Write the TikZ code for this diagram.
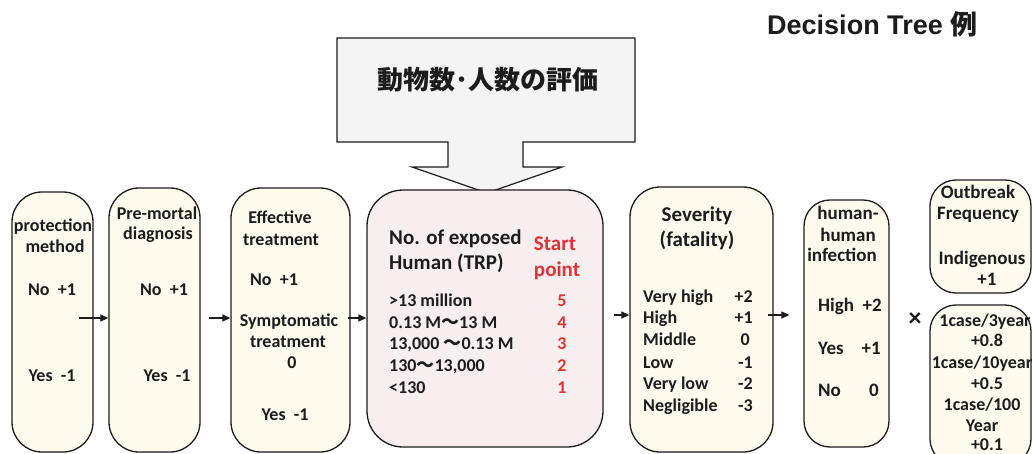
\documentclass[tikz,border=0pt]{standalone}
\usepackage{fontspec}
\setmainfont{Carlito}
\newfontfamily\cjk{Noto Sans CJK JP}
\newfontfamily\arialb{Liberation Sans}
\usetikzlibrary{arrows.meta,calc}
\definecolor{cream}{HTML}{FDFBEE}
\definecolor{pinkf}{HTML}{F7EEF0}
\definecolor{callf}{HTML}{F4F4F4}
\definecolor{ink}{HTML}{1C1C1C}
\definecolor{redn}{HTML}{DD3535}
\tikzset{
  box/.style={draw=ink, line width=1.3pt, fill=cream, rounded corners=30pt, inner sep=0pt},
  t18/.style={font=\bfseries\fontsize{18}{21}\selectfont, text=ink, inner sep=0pt},
  t19/.style={font=\bfseries\fontsize{19}{21}\selectfont, text=ink, inner sep=0pt},
  t21/.style={font=\bfseries\fontsize{21}{25}\selectfont, text=ink, inner sep=0pt},
  arr/.style={draw=ink, line width=1.2pt, -{Triangle[length=8pt,width=7pt]}},
  rn/.style={text=redn},
}
\begin{document}
\begin{tikzpicture}[x=1pt,y=-1pt]
\useasboundingbox (0,0) rectangle (1032,454);
\clip (0,0) rectangle (1032,454);

% title
\node[font=\arialb\bfseries\fontsize{27}{27}\selectfont, text=ink, anchor=base west, inner sep=0pt] (title) at (767,35) {Decision Tree {\cjk\bfseries 例}};

% callout arrow
\draw[draw=ink, line width=1.2pt, fill=callf] (337,38) -- (635,38) -- (635,142) -- (523,142) -- (523,167) -- (562,167) -- (487,193) -- (412,167) -- (448,167) -- (448,142) -- (337,142) -- cycle;
\node[font=\cjk\bfseries\fontsize{26}{26}\selectfont, text=ink] (ctitle) at (488,80) {動物数･人数の評価};

% boxes
\node[box, minimum width=81pt, minimum height=260pt] (b1) at (52.5,322) {};
\node[box, minimum width=91pt, minimum height=264pt] (b2) at (154.5,320) {};
\node[box, minimum width=119pt, minimum height=264pt] (b3) at (290.5,320) {};
\node[box, fill=pinkf, rounded corners=36pt, minimum width=236pt, minimum height=257pt] (b4) at (485,318.5) {};
\node[box, minimum width=143pt, minimum height=265pt] (b5) at (701.5,319.5) {};
\node[box, rounded corners=26pt, minimum width=85pt, minimum height=247pt] (b6) at (846.5,323.5) {};
\node[box, rounded corners=26pt, minimum width=101pt, minimum height=113pt] (b7) at (980.5,236.5) {};
\node[box, rounded corners=26pt, minimum width=101pt, minimum height=160pt] (b8) at (980.5,385) {};

% arrows
\coordinate (ya) at (0,318);
\coordinate (yb) at (0,315);
\draw[arr] ($(b1.east |- ya)+(-15,0)$) -- (b2.west |- ya);
\draw[arr] ($(b2.east |- ya)+(8,0)$) -- (b3.west |- ya);
\draw[arr] ($(b3.east |- ya)+(-3,0)$) -- (b4.west |- ya);
\draw[arr] ($(b4.east |- yb)+(10,0)$) -- (b5.west |- yb);
\draw[arr] ($(b5.east |- yb)+(-6,0)$) -- ($(b6.west |- yb)+(-14,0)$);
\node[font=\bfseries\fontsize{26}{26}\selectfont, text=ink, inner sep=0pt] (times) at (915,320) {×};

% box 1
\node[t18, anchor=base] (p1) at (53,231) {protection};
\node[t18, anchor=base] (p2) at (55,252) {method};
\node[t18, anchor=base] (p3) at (52,295) {No~~+1};
\node[t18, anchor=base] (p4) at (52,381) {Yes~~-1};

% box 2
\node[t18, anchor=base] (d1) at (157,220) {Pre-mortal};
\node[t18, anchor=base] (d2) at (158,240) {diagnosis};
\node[t18, anchor=base] (d3) at (164,295) {No~~+1};
\node[t18, anchor=base] (d4) at (167,381) {Yes~~-1};

% box 3
\node[t18, anchor=base] (e1) at (280,224) {Effective};
\node[t18, anchor=base] (e2) at (281,245) {treatment};
\node[t18, anchor=base] (e3) at (274,285) {No~~+1};
\node[t18, anchor=base] (e4) at (289,326) {Symptomatic};
\node[t18, anchor=base] (e5) at (288,347) {treatment};
\node[t18, anchor=base] (e6) at (292,368) {0};
\node[t18, anchor=base] (e7) at (285,420) {Yes~~-1};

% box 4
\node[t21, anchor=base west] (h1) at (389,244) {No. of exposed};
\node[t21, anchor=base west] (h2) at (389,269) {Human (TRP)};
\node[t21, rn, anchor=base] (s1) at (555,250) {Start};
\node[t21, rn, anchor=base] (s2) at (557,276) {point};
\node[t18, anchor=base west] (l1) at (389,306) {>13 million};
\node[t18, anchor=base west] (l2) at (389,328) {0.13 M{\cjk ～}13 M};
\node[t18, anchor=base west] (l3) at (389,349) {13,000 {\cjk ～}0.13 M};
\node[t18, anchor=base west] (l4) at (389,371) {130{\cjk ～}13,000};
\node[t18, anchor=base west] (l5) at (389,393) {<130};
\node[t18, rn, anchor=base] (n1) at (562,306) {5};
\node[t18, rn, anchor=base] (n2) at (562,328) {4};
\node[t18, rn, anchor=base] (n3) at (562,349) {3};
\node[t18, rn, anchor=base] (n4) at (562,371) {2};
\node[t18, rn, anchor=base] (n5) at (562,393) {1};

% box 5
\node[t21, anchor=base] (v1) at (697,222) {Severity};
\node[t21, anchor=base] (v2) at (697,246) {(fatality)};
\node[t18, anchor=base west] (g1) at (643,302) {Very high};
\node[t18, anchor=base west] (g2) at (643,323) {High};
\node[t18, anchor=base west] (g3) at (643,345) {Middle};
\node[t18, anchor=base west] (g4) at (643,368) {Low};
\node[t18, anchor=base west] (g5) at (643,389) {Very low};
\node[t18, anchor=base west] (g6) at (643,411) {Negligible};
\node[t18, anchor=base east] (w1) at (753,302) {+2};
\node[t18, anchor=base east] (w2) at (753,323) {+1};
\node[t18, anchor=base east] (w3) at (750,345) {0};
\node[t18, anchor=base east] (w4) at (753,368) {-1};
\node[t18, anchor=base east] (w5) at (753,389) {-2};
\node[t18, anchor=base east] (w6) at (753,411) {-3};

% box 6
\node[t19, anchor=base] (i1) at (848,219) {human-};
\node[t19, anchor=base] (i2) at (848,241) {human};
\node[t19, anchor=base] (i3) at (842,261) {infection};
\node[t19, anchor=base west] (j1) at (818,311) {High};
\node[t19, anchor=base east] (k1) at (882,311) {+2};
\node[t19, anchor=base west] (j2) at (818,354) {Yes};
\node[t19, anchor=base east] (k2) at (881,354) {+1};
\node[t19, anchor=base west] (j3) at (818,396) {No};
\node[t19, anchor=base east] (k3) at (879,396) {0};

% box 7
\node[t19, anchor=base] (o1) at (978,199) {Outbreak};
\node[t19, anchor=base] (o2) at (978,219) {Frequency};
\node[t19, anchor=base] (o3) at (982,264) {Indigenous};
\node[t19, anchor=base] (o4) at (987,285) {+1};

% box 8
\node[t18, anchor=base] (c1) at (985,326) {1case/3year};
\node[t18, anchor=base] (c2) at (987,346) {+0.8};
\node[t18, anchor=base] (c3) at (982,368) {1case/10year};
\node[t18, anchor=base] (c4) at (987,389) {+0.5};
\node[t18, anchor=base] (c5) at (982,410) {1case/100};
\node[t18, anchor=base] (c6) at (982,431) {Year};
\node[t18, anchor=base] (c7) at (987,450) {+0.1};
\end{tikzpicture}
\end{document}
